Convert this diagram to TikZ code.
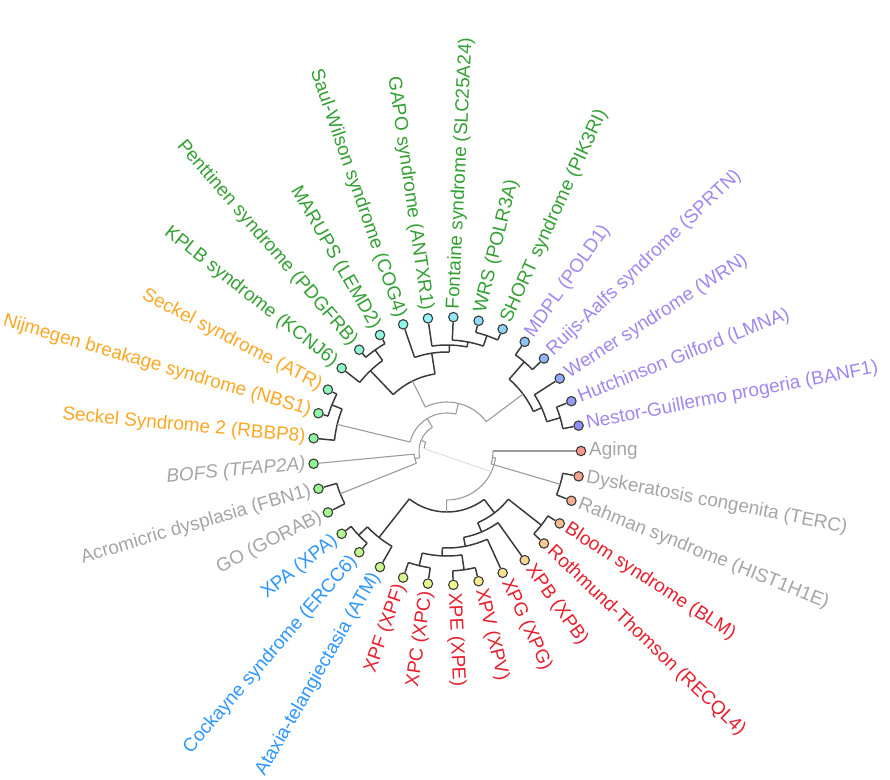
\documentclass[tikz,border=0pt]{standalone}
\usepackage{fontspec}
\setmainfont{Liberation Sans}
\definecolor{tgreen}{RGB}{52,160,52}
\definecolor{tpurple}{RGB}{160,135,240}
\definecolor{torange}{RGB}{250,168,35}
\definecolor{tgray}{RGB}{165,165,165}
\definecolor{tblue}{RGB}{45,150,255}
\definecolor{tred}{RGB}{232,30,45}
\definecolor{edark}{RGB}{58,58,58}
\definecolor{elight}{RGB}{155,155,155}
\tikzset{
  dk/.style={draw=edark, line width=1.5pt},
  lt/.style={draw=elight, line width=1.1pt},
  faint/.style={draw=black!13, line width=1pt},
  leafdot/.style={circle, draw=edark, line width=1.1pt, minimum size=9.5pt, inner sep=0pt},
  lbl/.style={font=\fontsize{19}{19}\selectfont, inner sep=0pt},
}
% \tjoin{style}{r}{child1}{angle1}{child2}{angle2}{parent}{parent angle}
\newcommand\tjoin[8]{%
  \coordinate (#7) at (#8:#2);
  \coordinate (#3-e) at (#4:#2);
  \coordinate (#5-e) at (#6:#2);
  \draw[#1] (#3) -- (#3-e);
  \draw[#1] (#5) -- (#5-e);
  \draw[#1] (#3-e) arc[start angle=#4, end angle=#6, radius=#2];
}
\begin{document}
\begin{tikzpicture}[x=1bp,y=1bp]
\useasboundingbox (-447,-329) rectangle (443,451);
% leaves and labels
\foreach \i/\nm/\txt/\col in {
  0/aging/Aging/tgray,
  1/dysk/Dyskeratosis congenita (TERC)/tgray,
  2/rahman/Rahman syndrome (HIST1H1E)/tgray,
  3/bloom/Bloom syndrome (BLM)/tred,
  4/roth/Rothmund-Thomson (RECQL4)/tred,
  5/xpb/XPB (XPB)/tred,
  6/xpg/XPG (XPG)/tred,
  7/xpv/XPV (XPV)/tred,
  8/xpe/XPE (XPE)/tred,
  9/xpc/XPC (XPC)/tred,
  10/xpf/XPF (XPF)/tred,
  11/ataxia/Ataxia-telangiectasia (ATM)/tblue,
  12/cock/Cockayne syndrome (ERCC6)/tblue,
  13/xpa/XPA (XPA)/tblue,
  14/go/GO (GORAB)/tgray,
  15/acro/Acromicric dysplasia (FBN1)/tgray,
  16/bofs/\itshape BOFS (TFAP2A)/tgray,
  17/seckelb/Seckel Syndrome 2 (RBBP8)/torange,
  18/nij/Nijmegen breakage syndrome (NBS1)/torange,
  19/seckel/Seckel syndrome (ATR)/torange,
  20/kplb/KPLB syndrome (KCNJ6)/tgreen,
  21/pent/Penttinen syndrome (PDGFRB)/tgreen,
  22/marups/MARUPS (LEMD2)/tgreen,
  23/saul/Saul-Wilson syndrome (COG4)/tgreen,
  24/gapo/GAPO syndrome (ANTXR1)/tgreen,
  25/font/Fontaine syndrome (SLC25A24)/tgreen,
  26/wrs/WRS (POLR3A)/tgreen,
  27/short/SHORT syndrome (PIK3RI)/tgreen,
  28/mdpl/MDPL (POLD1)/tpurple,
  29/ruijs/Ruijs-Aalfs syndrome (SPRTN)/tpurple,
  30/werner/Werner syndrome (WRN)/tpurple,
  31/hutch/Hutchinson Gilford (LMNA)/tpurple,
  32/nestor/Nestor-Guillermo progeria (BANF1)/tpurple}{
  \pgfmathsetmacro\ang{-\i*360/33}
  \pgfmathsetmacro\angb{\ang+180}
  \pgfmathsetmacro\hue{0.01+\i*0.0205}
  \definecolor{dotraw}{hsb}{\hue,0.42,0.97}
  \colorlet{dotc}[rgb]{dotraw}
  \node[leafdot, fill=dotc] (\nm) at (\ang:134) {};
  \ifnum\i<9
    \node[lbl, text=\col, anchor=west, rotate=\ang] (\nm-t) at (\ang:142) {\txt};
  \else\ifnum\i>24
    \node[lbl, text=\col, anchor=west, rotate=\ang] (\nm-t) at (\ang:142) {\txt};
  \else
    \node[lbl, text=\col, anchor=east, rotate=\angb] (\nm-t) at (\ang:142) {\txt};
  \fi\fi
}
% tree
\tjoin{dk}{118}{dysk}{-10.909}{rahman}{-21.818}{DR}{-16.364}
\tjoin{lt}{46}{aging}{0}{DR}{-16.364}{A}{-8.182}
\tjoin{dk}{120}{bloom}{-32.727}{roth}{-43.636}{BR}{-38.182}
\tjoin{dk}{118}{xpc}{-98.182}{xpf}{-109.091}{XFC}{-103.636}
\tjoin{dk}{120}{xpv}{-76.364}{xpe}{-87.273}{XEV}{-81.818}
\tjoin{dk}{105}{XEV}{-81.818}{XFC}{-103.636}{X4}{-92.727}
\tjoin{dk}{97}{xpg}{-65.455}{X4}{-92.727}{X5}{-79.091}
\tjoin{dk}{88}{xpb}{-54.545}{X5}{-79.091}{X6}{-66.818}
\tjoin{dk}{78}{BR}{-38.182}{X6}{-66.818}{RED}{-52.5}
\tjoin{dk}{122}{cock}{-130.909}{xpa}{-141.818}{AC}{-136.364}
\tjoin{dk}{110}{ataxia}{-120}{AC}{-136.364}{BLUE}{-128.182}
\tjoin{dk}{61}{RED}{-52.5}{BLUE}{-128.182}{B}{-90.341}
\tjoin{lt}{49}{A}{-8.182}{B}{-90.341}{R2}{-49.261}
\tjoin{dk}{115}{go}{-152.727}{acro}{-163.636}{AG}{-158.182}
\tjoin{lt}{33}{AG}{-158.182}{bofs}{-174.545}{L1}{-166.364}
\tjoin{dk}{124}{nij}{-196.364}{seckel}{-207.273}{SN}{-201.818}
\tjoin{dk}{113}{seckelb}{-185.455}{SN}{-201.818}{OR}{-193.636}
\tjoin{dk}{124}{pent}{-229.091}{marups}{-240}{MP}{-234.545}
\tjoin{dk}{111}{kplb}{-218.182}{MP}{-234.545}{GL}{-226.364}
\tjoin{dk}{122}{wrs}{-283.636}{short}{-294.545}{WS}{-289.091}
\tjoin{dk}{111}{font}{-272.727}{WS}{-289.091}{FWS}{-280.909}
\tjoin{dk}{106}{gapo}{-261.818}{FWS}{-280.909}{GFWS}{-271.364}
\tjoin{dk}{99}{saul}{-250.909}{GFWS}{-271.364}{GR}{-261.136}
\tjoin{dk}{78}{GL}{-226.364}{GR}{-261.136}{G}{-243.75}
\tjoin{dk}{118}{mdpl}{-305.455}{ruijs}{-316.364}{MR}{-310.909}
\tjoin{dk}{118}{hutch}{-338.182}{nestor}{-349.091}{HN}{-343.636}
\tjoin{dk}{104}{werner}{-327.273}{HN}{-343.636}{WHN}{-335.455}
\tjoin{dk}{95}{MR}{-310.909}{WHN}{-335.455}{P}{-323.182}
\tjoin{lt}{49}{G}{-243.75}{P}{-323.182}{N1}{-283.466}
\tjoin{lt}{38}{OR}{-193.636}{N1}{-283.466}{T}{-238.551}
\tjoin{lt}{28}{L1}{-166.364}{T}{-238.551}{U}{-202.457}
% root
\coordinate (U-e) at (-202.457:23);
\coordinate (root) at (-186:23);
\coordinate (R2-link) at (-25:49);
\draw[lt] (U) -- (U-e);
\draw[lt] (U-e) arc[start angle=-202.457, end angle=-186, radius=23];
\draw[faint] (root) -- (R2-link);
\end{tikzpicture}
\end{document}
